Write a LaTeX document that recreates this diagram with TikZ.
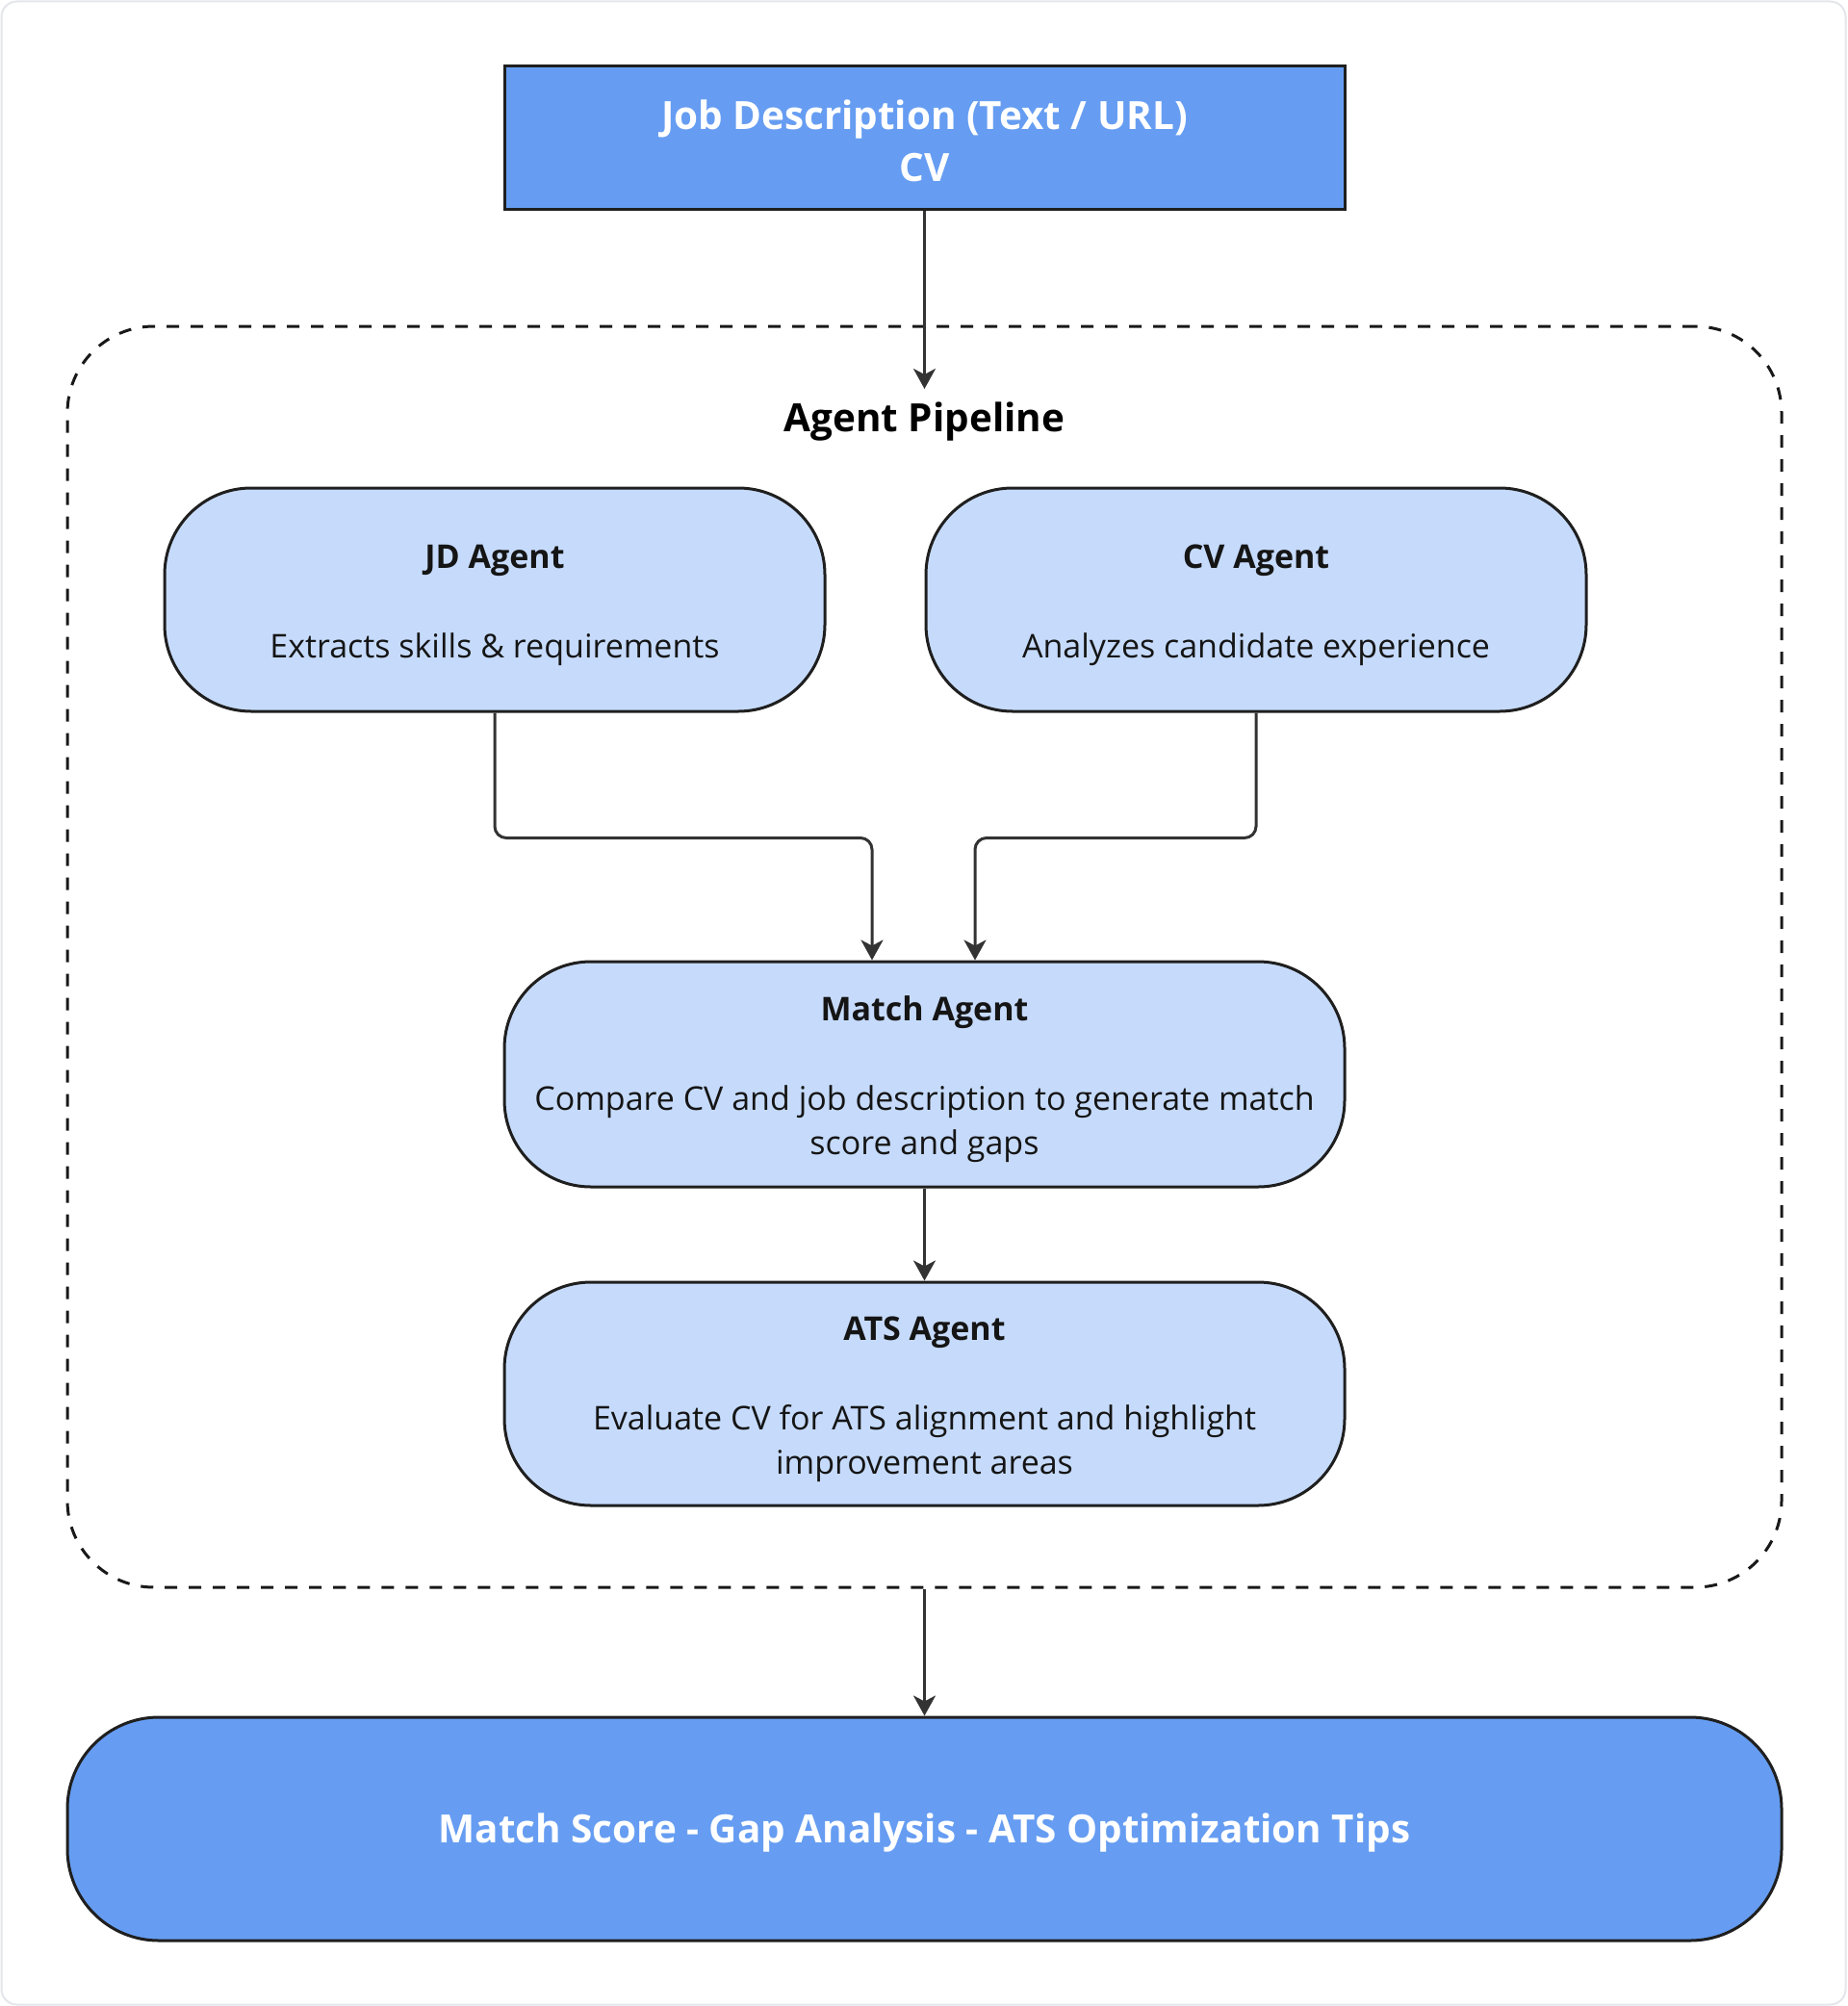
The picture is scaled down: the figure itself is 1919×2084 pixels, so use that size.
\documentclass[tikz,border=0pt]{standalone}
\usepackage{fontspec}
\setmainfont{Open Sans}
\usetikzlibrary{arrows.meta}
\definecolor{darkfill}{HTML}{669DF2}
\definecolor{lightfill}{HTML}{C6DBFC}
\definecolor{nodeline}{HTML}{1F1F1F}
\definecolor{edgeline}{HTML}{333333}
\definecolor{framegray}{HTML}{E4E6EB}
\definecolor{txt}{HTML}{151515}
\newcommand\ls{\rule[-10pt]{0pt}{36.5pt}}
\newcommand\fs{\rule{0pt}{37.5pt}}
\newcommand\lb{\rule[-12pt]{0pt}{42.5pt}}
\tikzset{
  bodyfont/.style={font=\fontsize{34}{46.5}\selectfont},
  bigfont/.style={font=\fontsize{40.4}{54.5}\selectfont\bfseries},
  inputbox/.style={draw=nodeline, line width=3pt, fill=darkfill, text=white, bigfont,
    minimum width=873pt, minimum height=149pt, inner sep=0pt, align=center},
  agentbox/.style={draw=nodeline, line width=3pt, fill=lightfill, text=txt, bodyfont,
    rounded corners=90pt, inner sep=0pt, align=center, minimum height=232pt},
  outbox/.style={draw=nodeline, line width=3pt, fill=darkfill, text=white, bigfont,
    rounded corners=95pt, inner sep=0pt, align=center, minimum width=1781pt, minimum height=232pt},
  clusterbox/.style={draw=black!90, line width=3pt, dash pattern=on 13pt off 12pt,
    rounded corners=90pt, minimum width=1781pt, minimum height=1310pt, inner sep=0pt},
  flow/.style={draw=edgeline, line width=3pt, rounded corners=12pt,
    -{Stealth[length=21pt, width=23pt, inset=6pt]}},
}
\begin{document}
\begin{tikzpicture}[x=1pt, y=-1pt]
\useasboundingbox (0,0) rectangle (1919,2084);
\fill[white, rounded corners=16pt] (1.5,1.5) rectangle (1917.5,2082.5);
\draw[framegray, line width=2pt, rounded corners=16pt] (1.5,1.5) rectangle (1917.5,2082.5);

\node[clusterbox] (pipe) at (960.5,994) {};
\node[font=\fontsize{40.4}{46}\selectfont\bfseries, text=black, inner sep=0pt] (pipelabel) at (960.5,436)
  {\rule[-12pt]{0pt}{48pt}Agent Pipeline};

\node[inputbox] (input) at (960.5,143.5) {\rule{0pt}{48pt}Job Description (Text / URL)\\CV\lb};

\node[agentbox, minimum width=686pt] (jd) at (514,623)
  {\fs\textbf{JD Agent}\ls\\[46.5pt]Extracts skills \& requirements\ls};
\node[agentbox, minimum width=686pt] (cv) at (1305,623)
  {\fs\textbf{CV Agent}\ls\\[46.5pt]Analyzes candidate experience\ls};
\node[agentbox, minimum width=873pt, minimum height=234pt] (match) at (960.5,1116)
  {\fs\textbf{Match Agent}\ls\\[46.5pt]Compare CV and job description to generate match\ls\\score and gaps\ls};
\node[agentbox, minimum width=873pt] (ats) at (960.5,1448)
  {\fs\textbf{ATS Agent}\ls\\[46.5pt]Evaluate CV for ATS alignment and highlight\ls\\improvement areas\ls};

\node[outbox] (out) at (960.5,1900) {\rule[-12pt]{0pt}{52.5pt}Match Score - Gap Analysis - ATS Optimization Tips};

\coordinate (pipein) at (960.5,404);
\draw[flow] (input.south) -- (pipein);
\draw[flow] (jd.south) -- ++(0,130) -| ([xshift=-54.5pt]match.north);
\draw[flow] (cv.south) -- ++(0,130) -| ([xshift=52.5pt]match.north);
\draw[flow] (match.south) -- (ats.north);
\draw[flow] (pipe.south) -- (out.north);
\end{tikzpicture}
\end{document}
